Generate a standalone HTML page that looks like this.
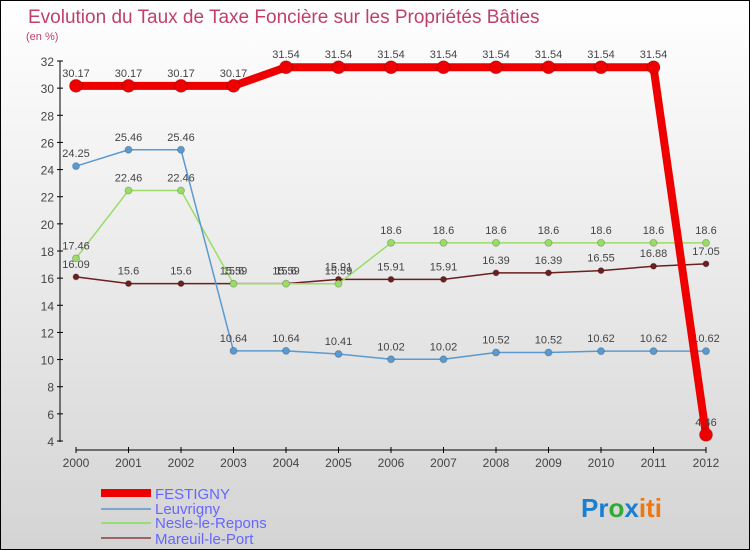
<!DOCTYPE html>
<html><head><meta charset="utf-8"><style>
body{margin:0}
#c{position:relative;width:748px;height:548px;border:1px solid #000;background:linear-gradient(#ffffff,#d4d4d4);font-family:"Liberation Sans",sans-serif;overflow:hidden}
</style></head><body>
<div id="c">
<svg id="s" width="748" height="548" xmlns="http://www.w3.org/2000/svg">
<text x="27" y="22" font-size="19" fill="#c0406a">Evolution du Taux de Taxe Foncière sur les Propriétés Bâties</text>
<text x="25" y="39" font-size="11" fill="#c0406a">(en %)</text>
<g id="axes"></g><g id="series"></g>
<g>
<rect x="100" y="488" width="50" height="8" fill="#e00"/>
<text x="154" y="498" font-size="15" fill="#6666ff">FESTIGNY</text>
<rect x="100" y="507" width="50" height="2" fill="#7aa7d0"/>
<text x="154" y="513" font-size="15" fill="#6666ff">Leuvrigny</text>
<rect x="100" y="521" width="50" height="2" fill="#99dd77"/>
<text x="154" y="527" font-size="15" fill="#6666ff">Nesle-le-Repons</text>
<rect x="100" y="536" width="50" height="2" fill="#996666"/>
<text x="154" y="543" font-size="15" fill="#6666ff">Mareuil-le-Port</text>
</g>
<text x="580" y="516" font-size="26" font-weight="bold"><tspan fill="#1a7fd0">Pr</tspan><tspan fill="#33aa33">o</tspan><tspan fill="#1a7fd0">x</tspan><tspan fill="#ee7711">iti</tspan></text>
</svg></div>
<script>
const years=["2000","2001","2002","2003","2004","2005","2006","2007","2008","2009","2010","2011","2012"];
const yTicks=[4,6,8,10,12,14,16,18,20,22,24,26,28,30,32];
const festigny=[30.17,30.17,30.17,30.17,31.54,31.54,31.54,31.54,31.54,31.54,31.54,31.54,4.46];
const leuvrigny=[24.25,25.46,25.46,10.64,10.64,10.41,10.02,10.02,10.52,10.52,10.62,10.62,10.62];
const nesle=[17.46,22.46,22.46,15.59,15.59,15.59,18.6,18.6,18.6,18.6,18.6,18.6,18.6];
const mareuil=[16.09,15.6,15.6,15.6,15.6,15.91,15.91,15.91,16.39,16.39,16.55,16.88,17.05];
const NS="http://www.w3.org/2000/svg";
const x=i=>75+i*52.5, y=v=>440-(v-4)*(380/28);
function mk(t,a,p){const e=document.createElementNS(NS,t);for(const k in a)e.setAttribute(k,a[k]);p.appendChild(e);return e;}
const ax=document.getElementById('axes');
let l=mk('line',{x1:59,y1:60,x2:59,y2:441,stroke:'#000'},ax);

l=mk('line',{x1:75,y1:449,x2:705,y2:449,stroke:'#000'},ax);

yTicks.forEach(v=>{mk('line',{x1:56,y1:y(v),x2:62,y2:y(v),stroke:'#000'},ax);
 const t=mk('text',{x:53,y:y(v)+5,'font-size':12,'text-anchor':'end',fill:'#444'},ax);t.textContent=v;
 });
years.forEach((yr,i)=>{mk('line',{x1:x(i),y1:446,x2:x(i),y2:452,stroke:'#000'},ax);
 const t=mk('text',{x:x(i),y:466,'font-size':12,'text-anchor':'middle',fill:'#444'},ax);t.textContent=yr;
 });
const sg=document.getElementById('series');
function draw(d,col,w,r,name){
 const g=mk('g',{},sg);
 const p=mk('polyline',{points:d.map((v,i)=>x(i)+','+y(v)).join(' '),fill:'none',stroke:col,'stroke-width':w,'stroke-linejoin':'round'},g);
 
 d.forEach((v,i)=>{const c=mk('circle',{cx:x(i),cy:y(v),r:r,fill:col,stroke:'#0003'},g);
  
  const t=mk('text',{x:x(i),y:y(v)-9,'font-size':11,'text-anchor':'middle',fill:'#444'},g);t.textContent=v;
  });
}
draw(mareuil,'#6b1f1f',1.5,3,'mareuil');
draw(nesle,'#99dd66',1.5,3.5,'nesle');
draw(leuvrigny,'#5a9ad0',1.5,3.5,'leuvrigny');
draw(festigny,'#ee0000',8,6.5,'festigny');
</script>
</body></html>
